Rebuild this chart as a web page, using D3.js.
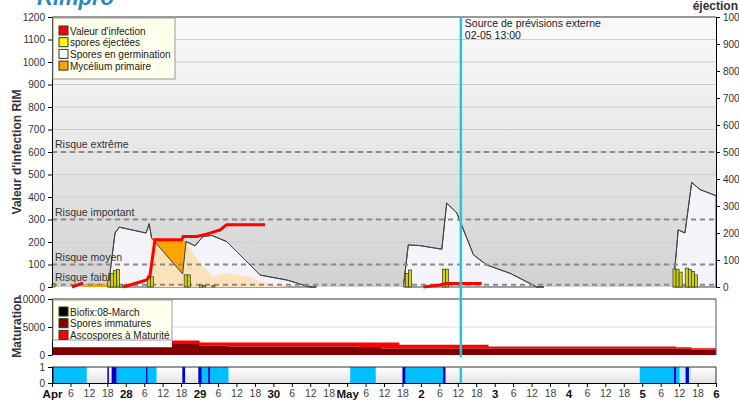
<!DOCTYPE html>
<html>
<head>
<meta charset="utf-8">
<script src="https://cdn.jsdelivr.net/npm/d3@7"></script>
<style>
  body { margin: 0; background: #fff; }
  svg { font-family: Arial, "Liberation Sans", sans-serif; }
  .axis text { fill: #333; }
</style>
</head>
<body>
<script>
// hours counted from 27 April 00:00
const startDate = Date.UTC(2024, 3, 27);
const spanHours = 216;

// Spores en germination (left scale), one array per episode: [hour, value]
const germination = [
  [[18.3, 0], [20.5, 240], [21.9, 266], [30.6, 240], [31.6, 281], [32.4, 218], [42.5, 58], [43.6, 202],
   [46.5, 183], [49.2, 225], [52, 229], [56.8, 202], [62.2, 128], [67.7, 53], [76.4, 31], [83.9, 0], [86, 0]],
  [[114.3, 0], [115.9, 187], [119.7, 184], [126.8, 168], [128.4, 373], [131.7, 329], [137.1, 143],
   [141.4, 98], [149, 61], [153.3, 31], [157.7, 0], [160, 0]],
  [[202.1, 0], [203.7, 254], [205.9, 240], [208.1, 465], [210.8, 433], [216, 406]]
];

// Mycélium primaire: [hour, base, top]
const mycelium = [
  [[10, 0, 0], [11, 0, 14], [17, 0, 14], [18, 0, 0]],
  [[32.4, 218, 218], [42.5, 58, 206], [43.6, 202, 202]]
];

// lighter mycelium band under the germination curve
const myceliumFaded = [[31.6, 0], [32.4, 218], [42.5, 58], [43.6, 195], [44, 188], [48.1, 107], [52.4, 46],
  [56.8, 62], [63.3, 49], [70.9, 9], [77.4, 0]];

// Valeur d'infection (RIM)
const infection = [
  [[6.5, 0], [10.1, 18]],
  [[23.2, 0], [30.8, 31], [31.9, 53], [33.5, 210], [42.2, 210], [42.7, 225], [47.1, 225], [50.3, 235],
   [54.7, 254], [56.8, 277], [69.3, 277]],
  [[120.8, 0], [126.2, 9], [128.4, 16], [139.8, 16]]
];

// spores éjectées per hour (right scale)
const ejectHours = [0, 18, 19, 20, 21, 22, 31, 32, 43, 44, 48, 49, 52, 115, 116, 127, 128, 202, 203, 204, 206, 207, 208, 209];
const ejectValues = [12, 25, 50, 62, 65, 10, 40, 38, 45, 45, 8, 6, 6, 50, 63, 66, 66, 67, 65, 55, 70, 65, 58, 45];

const risks = [
  { label: "Risque extrême", value: 600 },
  { label: "Risque important", value: 300 },
  { label: "Risque moyen", value: 100 },
  { label: "Risque faible", value: 10 }
];

// Maturation panel (step values)
const matHours = [0, 39, 48, 57, 100, 107, 113, 142, 203, 208, 216];
const immature = [1400, 1950, 1640, 1500, 1450, 1150, 1150, 1150, 1100, 1000, 1000];
const mature = [0, 650, 600, 740, 790, 1090, 700, 350, 300, 200, 200];

// humectation strip
const wetPeriods = [[0, 11.3], [21, 30.6], [31.1, 34], [48.7, 50.8], [51.4, 57.4], [97, 105.3], [115, 127.2], [191.2, 202.3], [203, 204.2]];
const lightWetPeriods = [[204.2, 206.1], [207.2, 208]];
const rainPeriods = [[0, 0.5], [18, 18.5], [19.4, 21], [30.6, 31.1], [42.4, 43.3], [47.6, 48.7], [50.8, 51.4], [114, 115], [127.2, 128], [202.3, 203], [206.1, 207.2]];

const forecastHour = 133;

const legendTop = [
  { label: "Valeur d'infection", color: "#ff0000" },
  { label: "spores éjectées", color: "#ffff00" },
  { label: "Spores en germination", color: "#ffffff" },
  { label: "Mycélium primaire", color: "#ffa500" }
];
const legendMid = [
  { label: "Biofix:08-March", color: "#000000" },
  { label: "Spores immatures", color: "#800000" },
  { label: "Ascospores à Maturité", color: "#ff0000" }
];

const width = 739, height = 403;
const left = 52, right = 716;
const hr = h => new Date(startDate + h * 3600e3);
const intFmt = d3.format("d");

const svg = d3.select("body").append("svg")
  .attr("width", width)
  .attr("height", height);

const defs = svg.append("defs");
const g1 = defs.append("linearGradient").attr("id", "bgTop").attr("x1", 0).attr("x2", 0).attr("y1", 0).attr("y2", 1);
g1.append("stop").attr("offset", "0%").attr("stop-color", "#fbfbfb");
g1.append("stop").attr("offset", "100%").attr("stop-color", "#d2d2d2");
const g2 = defs.append("linearGradient").attr("id", "bgStrip").attr("x1", 0).attr("x2", 0).attr("y1", 0).attr("y2", 1);
g2.append("stop").attr("offset", "0%").attr("stop-color", "#ffffff");
g2.append("stop").attr("offset", "100%").attr("stop-color", "#e2e2e2");

const x = d3.scaleUtc().domain([hr(0), hr(spanHours)]).range([left, right]);
const yL = d3.scaleLinear().domain([0, 1200]).range([287, 17]);
const yR = d3.scaleLinear().domain([0, 1000]).range([287, 17]);
const yM = d3.scaleLinear().domain([0, 10000]).range([355, 299]);
const yS = d3.scaleLinear().domain([0, 1]).range([383, 367]);

// title fragments (cut off at the top, as in the source)
svg.append("text")
  .attr("x", 37).attr("y", 5)
  .style("font-size", "22px").style("font-weight", "bold").style("font-style", "italic")
  .style("fill", "#2e86b8")
  .text("Rimpro");
svg.append("text")
  .attr("x", 738).attr("y", 10)
  .attr("text-anchor", "end")
  .style("font-size", "12px").style("font-weight", "bold").style("fill", "#333")
  .text("éjection");

// ---------- top panel ----------
const topPanel = svg.append("g");
topPanel.append("rect")
  .attr("x", left).attr("y", 17).attr("width", right - left).attr("height", 270)
  .attr("fill", "url(#bgTop)");

topPanel.selectAll(".grid")
  .data(d3.range(100, 1201, 100))
  .join("line")
  .attr("x1", left).attr("x2", right)
  .attr("y1", d => yL(d)).attr("y2", d => yL(d))
  .attr("stroke", "#cdcdcd").attr("stroke-width", 1);

const germArea = d3.area()
  .x(d => x(hr(d[0])))
  .y0(yL(0))
  .y1(d => yL(d[1]));

topPanel.selectAll(".germ")
  .data(germination)
  .join("path")
  .attr("d", germArea)
  .attr("fill", "#f3f3f9")
  .attr("stroke", "#444")
  .attr("stroke-width", 1);

topPanel.append("path")
  .attr("d", germArea(myceliumFaded))
  .attr("fill", "#fbe2bb");

topPanel.selectAll(".myc")
  .data(mycelium)
  .join("path")
  .attr("d", d3.area().x(d => x(hr(d[0]))).y0(d => yL(d[1])).y1(d => yL(d[2])))
  .attr("fill", "#ffa500");

// redraw the germination outline over the mycelium
topPanel.selectAll(".germLine")
  .data(germination)
  .join("path")
  .attr("d", d3.line().x(d => x(hr(d[0]))).y(d => yL(d[1])))
  .attr("fill", "none")
  .attr("stroke", "#444")
  .attr("stroke-width", 1);

topPanel.selectAll(".risk")
  .data(risks)
  .join("line")
  .attr("x1", left).attr("x2", right)
  .attr("y1", d => yL(d.value)).attr("y2", d => yL(d.value))
  .attr("stroke", "#8a8a8a")
  .attr("stroke-width", 2)
  .attr("stroke-dasharray", "5,4");

topPanel.selectAll(".riskLabel")
  .data(risks)
  .join("text")
  .attr("x", 55)
  .attr("y", d => yL(d.value) - 4)
  .style("font-size", "10.5px")
  .style("fill", "#333")
  .text(d => d.label);

const barW = x(hr(1)) - x(hr(0));
topPanel.selectAll(".bar")
  .data(ejectHours)
  .join("rect")
  .attr("x", d => x(hr(d)))
  .attr("y", (d, i) => yR(ejectValues[i]))
  .attr("width", barW)
  .attr("height", (d, i) => yR(0) - yR(ejectValues[i]))
  .attr("fill", "#d2d200")
  .attr("stroke", "#333")
  .attr("stroke-width", 0.7);

topPanel.selectAll(".inf")
  .data(infection)
  .join("path")
  .attr("d", d3.line().x(d => x(hr(d[0]))).y(d => yL(d[1])))
  .attr("fill", "none")
  .attr("stroke", "#ff0000")
  .attr("stroke-width", 3);

topPanel.append("line")
  .attr("x1", left).attr("x2", right).attr("y1", 17).attr("y2", 17)
  .attr("stroke", "#999").attr("stroke-width", 2);

topPanel.append("g")
  .attr("class", "axis")
  .attr("transform", `translate(${left},0)`)
  .call(d3.axisLeft(yL).tickValues(d3.range(0, 1201, 100)).tickFormat(intFmt).tickSize(4).tickSizeOuter(0))
  .call(g => g.selectAll("text").style("font-size", "10px"));

topPanel.append("g")
  .attr("class", "axis")
  .attr("transform", `translate(${right},0)`)
  .call(d3.axisRight(yR).tickValues(d3.range(0, 1001, 100)).tickFormat(intFmt).tickSize(4).tickSizeOuter(0))
  .call(g => g.selectAll("text").style("font-size", "10px"));

topPanel.append("text")
  .attr("transform", "rotate(-90)")
  .attr("x", -152).attr("y", 21)
  .attr("text-anchor", "middle")
  .style("font-size", "12px").style("font-weight", "bold").style("fill", "#333")
  .text("Valeur d'infection RIM");

// forecast marker
const fx = x(hr(forecastHour));
topPanel.append("text")
  .attr("x", fx + 4).attr("y", 27)
  .style("font-size", "10.5px").style("fill", "#222")
  .text("Source de prévisions externe");
topPanel.append("text")
  .attr("x", fx + 4).attr("y", 39)
  .style("font-size", "10.5px").style("fill", "#222")
  .text("02-05 13:00");

// legend top
const leg1 = topPanel.append("g");
leg1.append("rect")
  .attr("x", left + 1).attr("y", 18).attr("width", 122).attr("height", 61)
  .attr("fill", "#ffffee").attr("stroke", "#999");
leg1.selectAll(".sw")
  .data(legendTop)
  .join("rect")
  .attr("x", 59).attr("y", (d, i) => 26 + i * 11.7)
  .attr("width", 9).attr("height", 9)
  .attr("fill", d => d.color).attr("stroke", "#333");
leg1.selectAll(".lt")
  .data(legendTop)
  .join("text")
  .attr("x", 70).attr("y", (d, i) => 34.5 + i * 11.7)
  .style("font-size", "10px").style("fill", "#222")
  .text(d => d.label);

// ---------- maturation panel ----------
const mid = svg.append("g");
mid.append("rect")
  .attr("x", left).attr("y", 299).attr("width", right - left).attr("height", 56)
  .attr("fill", "#fff");
mid.append("line")
  .attr("x1", left).attr("x2", right).attr("y1", yM(5000)).attr("y2", yM(5000))
  .attr("stroke", "#ddd");

const matData = matHours.map((h, i) => ({ h: h, imm: immature[i], tot: immature[i] + mature[i] }));
mid.append("path")
  .attr("d", d3.area().curve(d3.curveStepAfter).x(d => x(hr(d.h))).y0(d => yM(d.imm)).y1(d => yM(d.tot))(matData))
  .attr("fill", "#ff0000");
mid.append("path")
  .attr("d", d3.area().curve(d3.curveStepAfter).x(d => x(hr(d.h))).y0(yM(0)).y1(d => yM(d.imm))(matData))
  .attr("fill", "#800000");

mid.append("line")
  .attr("x1", left).attr("x2", right).attr("y1", 299).attr("y2", 299)
  .attr("stroke", "#999").attr("stroke-width", 2);
mid.append("line")
  .attr("x1", right).attr("x2", right).attr("y1", 299).attr("y2", 355)
  .attr("stroke", "#555");

mid.append("g")
  .attr("class", "axis")
  .attr("transform", `translate(${left},0)`)
  .call(d3.axisLeft(yM).tickValues([0, 5000, 10000]).tickFormat(intFmt).tickSize(4).tickSizeOuter(0))
  .call(g => g.selectAll("text").style("font-size", "10px"));

mid.append("text")
  .attr("transform", "rotate(-90)")
  .attr("x", -327).attr("y", 21)
  .attr("text-anchor", "middle")
  .style("font-size", "12px").style("font-weight", "bold").style("fill", "#333")
  .text("Maturation");

const leg2 = mid.append("g");
leg2.append("rect")
  .attr("x", left + 1).attr("y", 300).attr("width", 119).attr("height", 40)
  .attr("fill", "#ffffee").attr("stroke", "#999");
leg2.selectAll(".sw")
  .data(legendMid)
  .join("rect")
  .attr("x", 59).attr("y", (d, i) => 307 + i * 11.7)
  .attr("width", 9).attr("height", 9)
  .attr("fill", d => d.color).attr("stroke", "#333");
leg2.selectAll(".lt")
  .data(legendMid)
  .join("text")
  .attr("x", 70).attr("y", (d, i) => 315.5 + i * 11.7)
  .style("font-size", "10px").style("fill", "#222")
  .text(d => d.label);

// ---------- wetness strip ----------
const strip = svg.append("g");
strip.append("rect")
  .attr("x", left).attr("y", 367).attr("width", right - left).attr("height", 16)
  .attr("fill", "url(#bgStrip)");

strip.selectAll(".wet")
  .data(wetPeriods)
  .join("rect")
  .attr("x", d => x(hr(d[0]))).attr("y", yS(1))
  .attr("width", d => x(hr(d[1])) - x(hr(d[0]))).attr("height", yS(0) - yS(1))
  .attr("fill", "#00bfff");
strip.selectAll(".lwet")
  .data(lightWetPeriods)
  .join("rect")
  .attr("x", d => x(hr(d[0]))).attr("y", yS(1))
  .attr("width", d => x(hr(d[1])) - x(hr(d[0]))).attr("height", yS(0) - yS(1))
  .attr("fill", "#bfefff");
strip.selectAll(".rain")
  .data(rainPeriods)
  .join("rect")
  .attr("x", d => x(hr(d[0]))).attr("y", yS(1))
  .attr("width", d => Math.max(1.5, x(hr(d[1])) - x(hr(d[0])))).attr("height", yS(0) - yS(1))
  .attr("fill", "#0000cd");

strip.append("line")
  .attr("x1", left).attr("x2", right).attr("y1", 367).attr("y2", 367)
  .attr("stroke", "#333");
strip.append("line")
  .attr("x1", right).attr("x2", right).attr("y1", 367).attr("y2", 383)
  .attr("stroke", "#333");

strip.append("g")
  .attr("class", "axis")
  .attr("transform", `translate(${left},0)`)
  .call(d3.axisLeft(yS).tickValues([0, 1]).tickFormat(intFmt).tickSize(4).tickSizeOuter(0))
  .call(g => g.selectAll("text").style("font-size", "10px"));

const fmt = d => {
  const h = d.getUTCHours();
  if (h !== 0) return String(h);
  if (+d === startDate) return "Apr";
  if (d.getUTCDate() === 1) return "May";
  return String(d.getUTCDate());
};

strip.append("g")
  .attr("class", "axis")
  .attr("transform", `translate(0,383)`)
  .call(d3.axisBottom(x).ticks(d3.utcHour.every(6)).tickFormat(fmt).tickSize(4).tickSizeOuter(0))
  .call(g => g.selectAll(".tick text")
    .style("font-size", d => d.getUTCHours() === 0 ? "11.5px" : "10.5px")
    .style("font-weight", d => d.getUTCHours() === 0 ? "bold" : "normal")
    .style("fill", d => d.getUTCHours() === 0 ? "#111" : "#444"));

// forecast line through the panels
[[17, 357], [367, 383]].forEach(r => {
  svg.append("line")
    .attr("x1", fx).attr("x2", fx).attr("y1", r[0]).attr("y2", r[1])
    .attr("stroke", "#22c8d8").attr("stroke-width", 2.5);
});
</script>
</body>
</html>
